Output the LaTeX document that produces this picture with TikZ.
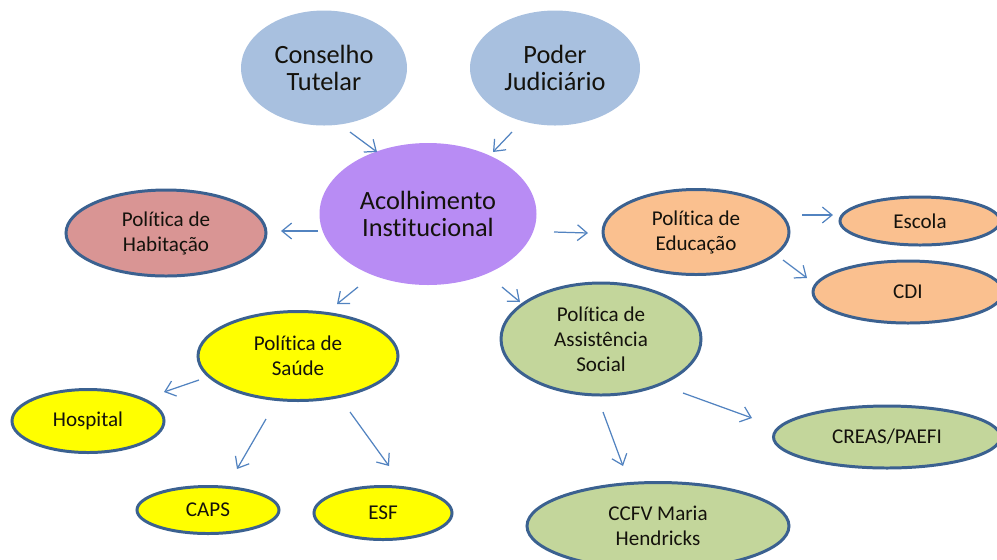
\documentclass[tikz,border=0pt]{standalone}
\usepackage{fontspec}
\setmainfont{Carlito}[Ligatures=NoCommon]
\usetikzlibrary{shapes.geometric,arrows.meta}
\definecolor{topblue}{HTML}{A8C0DF}
\definecolor{lilac}{HTML}{B88CF4}
\definecolor{rose}{HTML}{D99594}
\definecolor{peach}{HTML}{FAC08F}
\definecolor{sage}{HTML}{C3D69B}
\definecolor{yell}{HTML}{FFFF00}
\definecolor{rim}{HTML}{3B6190}
\definecolor{arr}{HTML}{5283C0}
\definecolor{ink}{HTML}{14120C}
\tikzset{
  ell/.style={ellipse, inner sep=0pt, align=center, text=ink},
  sz/.style 2 args={minimum width=#1*0.02cm, minimum height=#2*0.02cm},
  big/.style={ell, font=\fontsize{15}{15.4}\selectfont},
  small/.style={ell, font=\fontsize{12}{14.2}\selectfont, draw=rim, line width=1.7pt},
  link/.style={draw=arr, line width=0.7pt, -{Straight Barb[length=5.5pt,width=9pt]}}
}
\begin{document}
\begin{tikzpicture}[x=0.02cm, y=-0.02cm]
\useasboundingbox (0,0) rectangle (997,559);
\clip (0,0) rectangle (997,559);
% nodes
\node[big, fill=topblue, sz={166}{115}] (ct) at (324,68) {Conselho\\Tutelar};
\node[big, fill=topblue, sz={170}{115}] (pj) at (555,68) {Poder\\Judiciário};
\node[big, fill=lilac, sz={217}{142}] (ai) at (428,214) {Acolhimento\\Institucional};
\node[small, fill=rose, sz={200}{86}] (ph) at (166,233) {Política de\\Habitação};
\node[small, fill=peach, sz={186}{85}] (pe) at (696,232) {Política de\\Educação};
\node[small, fill=peach, sz={160}{48}] (es) at (920,221) {Escola};
\node[small, fill=peach, sz={190}{62}] (cdi) at (908,292) {CDI};
\node[small, fill=yell, sz={200}{89}] (ps) at (298,356) {Política de\\Saúde};
\node[small, fill=yell, sz={152}{63}] (ho) at (88,421) {Hospital};
\node[small, fill=yell, sz={142}{47}] (caps) at (208,510) {CAPS};
\node[small, fill=yell, sz={138}{53}] (esf) at (383,513) {ESF};
\node[small, fill=sage, sz={200}{112}] (pa) at (601,339) {Política de\\Assistência\\Social};
\node[small, fill=sage, sz={227}{62}] (cr) at (887,437) {CREAS/PAEFI};
\node[small, fill=sage, sz={262}{87}] (cc) at (658,526) {CCFV Maria\\Hendricks};
% arrow end points
\coordinate (a1s) at (350,132); \coordinate (a1e) at (377,152);
\coordinate (a2s) at (512,132); \coordinate (a2e) at (493,152);
\coordinate (a3s) at (318,231); \coordinate (a3e) at (281,231);
\coordinate (a4s) at (554,232); \coordinate (a4e) at (588,233);
\coordinate (a5s) at (358,287); \coordinate (a5e) at (337,304);
\coordinate (a6s) at (502,287); \coordinate (a6e) at (520,302);
\coordinate (a7s) at (802,215); \coordinate (a7e) at (833,215);
\coordinate (a8s) at (783,260); \coordinate (a8e) at (807,278);
\coordinate (a9s) at (199,380); \coordinate (a9e) at (164,392);
\coordinate (a10s) at (266,419); \coordinate (a10e) at (237,469);
\coordinate (a11s) at (350,412); \coordinate (a11e) at (389,466);
\coordinate (a12s) at (683,393); \coordinate (a12e) at (752,418);
\coordinate (a13s) at (603,412); \coordinate (a13e) at (623,466);
% connectors
\draw[link] (a1s) -- (a1e);
\draw[link] (a2s) -- (a2e);
\draw[link] (a3s) -- (a3e);
\draw[link] (a4s) -- (a4e);
\draw[link] (a5s) -- (a5e);
\draw[link] (a6s) -- (a6e);
\draw[link] (a7s) -- (a7e);
\draw[link] (a8s) -- (a8e);
\draw[link] (a9s) -- (a9e);
\draw[link] (a10s) -- (a10e);
\draw[link] (a11s) -- (a11e);
\draw[link] (a12s) -- (a12e);
\draw[link] (a13s) -- (a13e);
\end{tikzpicture}
\end{document}
